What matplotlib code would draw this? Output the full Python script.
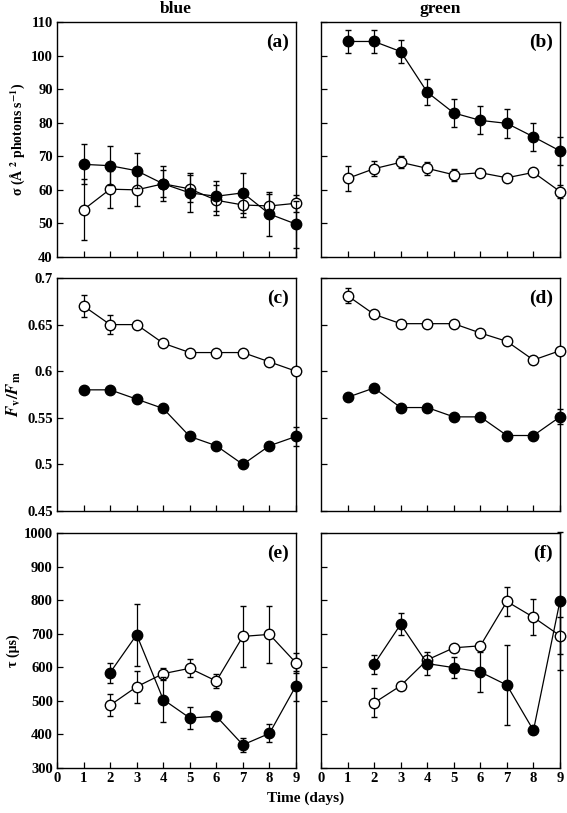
import matplotlib
matplotlib.use("Agg")
import matplotlib.pyplot as plt
import numpy as np

plt.rcParams['font.family'] = ['Liberation Serif', 'DejaVu Serif']
plt.rcParams['font.weight'] = 'bold'
plt.rcParams['mathtext.fontset'] = 'stix'

days = [1, 2, 3, 4, 5, 6, 7, 8, 9]
days_tau = [2, 3, 4, 5, 6, 7, 8, 9]

# (a) blue sigma
a_filled = [67.6, 67.2, 65.7, 61.8, 59.1, 58.1, 59.1, 52.8, 49.8]
a_filled_err = [6.0, 5.8, 5.2, 5.2, 5.8, 4.5, 6.0, 6.6, 7.0]
a_open = [54.1, 60.2, 60.0, 61.8, 60.3, 56.9, 55.5, 55.2, 56.0]
a_open_err = [9.0, 5.5, 4.8, 4.0, 4.0, 4.5, 3.5, 3.5, 2.6]
# (b) green sigma
b_filled = [104.2, 104.2, 101.2, 89.1, 82.9, 80.7, 79.8, 75.8, 71.6]
b_filled_err = [3.5, 3.3, 3.3, 3.8, 4.2, 4.2, 4.4, 4.2, 4.2]
b_open = [63.4, 66.3, 68.2, 66.4, 64.5, 65.1, 63.6, 65.2, 59.5]
b_open_err = [3.8, 2.3, 1.8, 2.0, 1.8, 1.0, 1.0, 0.5, 1.8]
# (c) blue Fv/Fm
c_filled = [0.58, 0.58, 0.57, 0.56, 0.53, 0.52, 0.50, 0.52, 0.53]
c_filled_err = [0.0, 0.0, 0.0, 0.0, 0.0, 0.0, 0.0, 0.0, 0.01]
c_open = [0.67, 0.65, 0.65, 0.63, 0.62, 0.62, 0.62, 0.61, 0.60]
c_open_err = [0.012, 0.01, 0.0, 0.003, 0.0, 0.0, 0.0, 0.0, 0.0]
# (d) green Fv/Fm
d_filled = [0.572, 0.582, 0.561, 0.561, 0.551, 0.551, 0.531, 0.531, 0.551]
d_filled_err = [0.0, 0.0, 0.0, 0.0, 0.0, 0.0, 0.005, 0.0, 0.008]
d_open = [0.681, 0.661, 0.651, 0.651, 0.651, 0.641, 0.632, 0.612, 0.622]
d_open_err = [0.008, 0.0, 0.0, 0.0, 0.0, 0.0, 0.0, 0.0, 0.0]
# (e) blue tau
e_filled = [584, 697, 504, 449, 454, 369, 403, 545]
e_filled_err = [30, 92, 68, 34, 8, 20, 27, 44]
e_open = [487, 542, 581, 597, 559, 692, 698, 613]
e_open_err = [33, 48, 18, 27, 22, 92, 85, 30]
# (f) green tau
f_filled = [609, 728, 611, 599, 586, 547, 412, 798]
f_filled_err = [28, 33, 35, 32, 60, 120, 10, 205]
f_open = [494, 545, 622, 658, 664, 796, 749, 694]
f_open_err = [43, 5, 10, 5, 5, 42, 54, 55]

W, H = 567, 813
fig = plt.figure(figsize=(W / 100, H / 100), dpi=100)

def px_axes(x0, x1, y0, y1):
    return fig.add_axes([x0 / W, 1 - y1 / H, (x1 - x0) / W, (y1 - y0) / H])

rows = [(22, 257), (278, 511), (533, 768)]
cols = [(57, 296), (321, 560)]

panels = [
    ('(a)', days, a_filled, a_filled_err, a_open, a_open_err, (40, 110), np.arange(40, 111, 10), 0, 0),
    ('(b)', days, b_filled, b_filled_err, b_open, b_open_err, (40, 110), np.arange(40, 111, 10), 0, 1),
    ('(c)', days, c_filled, c_filled_err, c_open, c_open_err, (0.45, 0.7), [0.45, 0.5, 0.55, 0.6, 0.65, 0.7], 1, 0),
    ('(d)', days, d_filled, d_filled_err, d_open, d_open_err, (0.45, 0.7), [0.45, 0.5, 0.55, 0.6, 0.65, 0.7], 1, 1),
    ('(e)', days_tau, e_filled, e_filled_err, e_open, e_open_err, (300, 1000), np.arange(300, 1001, 100), 2, 0),
    ('(f)', days_tau, f_filled, f_filled_err, f_open, f_open_err, (300, 1000), np.arange(300, 1001, 100), 2, 1),
]

for lab, x, yf, ef, yo, eo, ylim, yticks, r, c in panels:
    ax = px_axes(cols[c][0], cols[c][1], rows[r][0], rows[r][1])
    ax.errorbar(x, yo, yerr=eo, fmt='o', color='black', mfc='white', mec='black',
                ms=7.5, mew=1.0, lw=0.9, elinewidth=0.9, capsize=2.2, capthick=0.9,
                ls='-', clip_on=False, zorder=3)
    ax.errorbar(x, yf, yerr=ef, fmt='o', color='black', mfc='black', mec='black',
                ms=7.5, mew=1.0, lw=0.9, elinewidth=0.9, capsize=2.2, capthick=0.9,
                ls='-', clip_on=False, zorder=4)
    ax.set_xlim(0, 9)
    ax.set_ylim(*ylim)
    ax.set_xticks(range(0, 10) if r == 2 else range(1, 10))
    ax.set_yticks(yticks)
    ax.tick_params(direction='in', length=4, width=0.9, labelsize=10.5, top=False, right=False, pad=3)
    if r != 2:
        ax.set_xticklabels([])
    if c == 1:
        ax.set_yticklabels([])
    else:
        if r == 1:
            ax.set_yticklabels(['0.45', '0.5', '0.55', '0.6', '0.65', '0.7'])
    for sp in ax.spines.values():
        sp.set_linewidth(1.0)
    for t in ax.get_xticklabels() + ax.get_yticklabels():
        t.set_fontweight('bold')
    ax.text(0.97, 0.95, lab, transform=ax.transAxes, ha='right', va='top',
            fontsize=14, fontweight='bold')
    if c == 0:
        if r == 0:
            ax.set_ylabel('σ (Å $^{\\mathbf{2}}$ photons s$^{\\mathbf{-1}}$)', fontsize=10, fontweight='bold', labelpad=3)
        elif r == 1:
            ax.set_ylabel(r'$\mathbfit{F}_{\mathbf{v}}\mathbf{/}\mathbfit{F}_{\mathbf{m}}$', fontsize=12, labelpad=3)
        else:
            ax.set_ylabel('τ (µs)', fontsize=10, fontweight='bold', labelpad=3)

fig.text(176 / W, 1 - 9 / H, 'blue', ha='center', va='center', fontsize=12.5, fontweight='bold')
fig.text(440 / W, 1 - 9 / H, 'green', ha='center', va='center', fontsize=12.5, fontweight='bold')
fig.text(306 / W, 1 - 798 / H, 'Time (days)', ha='center', va='center', fontsize=11, fontweight='bold')

fig.savefig('out.png', dpi=100)
